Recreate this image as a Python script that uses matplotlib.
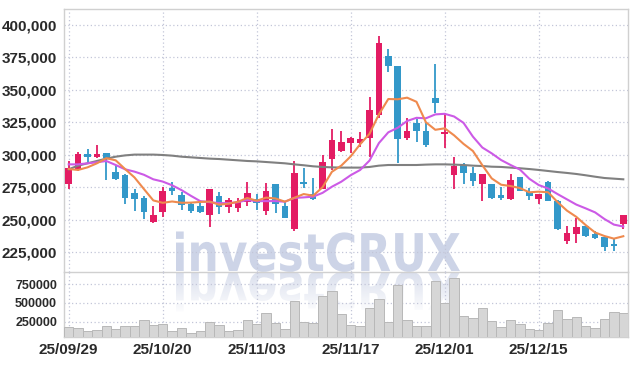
import matplotlib
matplotlib.use('Agg')
import matplotlib.pyplot as plt
import numpy as np
from matplotlib.textpath import TextPath
from matplotlib.font_manager import FontProperties
from matplotlib.patches import PathPatch
from matplotlib.transforms import Affine2D
import matplotlib.colors as mcolors

# ---------------- data ----------------
tick_pos = [0, 10, 20, 30, 40, 50]
tick_labels = ['25/09/29', '25/10/20', '25/11/03', '25/11/17', '25/12/01', '25/12/15']

opens = [277400, 289000, 300800, 298700, 301300, 286900, 284600, 271000, 266900, 248700,
         256400, 274900, 269200, 262300, 260800, 253800, 268500, 260300, 259500, 264100,
         265900, 257200, 277400, 260800, 243100, 279200, 269700, 273900, 296900, 303300,
         309500, 309500, 312800, 331000, 376200, 368500, 313300, 324900, 318700, 344100,
         315900, 284900, 292300, 285900, 277400, 277400, 269200, 265900, 282800, 271800,
         266400, 279500, 264600, 234100, 239000, 245400, 239200, 237200, 231500, 246700]
highs = [295600, 302300, 304600, 307700, 301500, 292100, 285500, 273600, 268500, 260800,
         275600, 279500, 271800, 264100, 263300, 274000, 271300, 266700, 267200, 279000,
         269700, 278200, 277500, 264100, 295600, 289700, 282600, 300000, 319700, 318700,
         313600, 317400, 344900, 391800, 381300, 368600, 328200, 327400, 324400, 369700,
         332400, 298700, 294100, 291000, 285500, 277500, 275100, 285400, 282900, 274400,
         270000, 280000, 265000, 245600, 251300, 245500, 241800, 237300, 235100, 254000]
lows = [273600, 287400, 294100, 297400, 280800, 280800, 262100, 256900, 250500, 247400,
        252100, 269200, 257700, 255100, 255100, 244900, 254400, 255600, 256200, 260800,
        257700, 253900, 255100, 251500, 241800, 274400, 265400, 273500, 288500, 302600,
        301800, 306400, 298200, 328200, 363600, 294100, 311500, 310300, 306400, 332100,
        305100, 273900, 277700, 276200, 264600, 266200, 265400, 265400, 272500, 265400,
        262300, 264600, 242300, 231300, 232100, 237200, 235400, 226400, 226200, 243100]
closes = [289700, 300800, 298700, 300800, 297700, 281500, 267200, 266400, 256400, 253800,
          272300, 272300, 261500, 256900, 256400, 273800, 260300, 265400, 264100, 271000,
          263300, 272300, 262100, 251800, 285900, 277700, 265900, 294400, 311500, 309700,
          313300, 312300, 334600, 386400, 368700, 312300, 318500, 318700, 307700, 339700,
          318000, 291500, 285900, 280300, 285100, 267200, 267200, 280800, 272600, 268700,
          269700, 264900, 243100, 239800, 244600, 238000, 236400, 229500, 229800, 253900]
volumes = [175000, 162000, 122000, 136000, 189000, 149000, 189000, 189000, 269000, 202000,
           215000, 126000, 162000, 96000, 122000, 242000, 202000, 122000, 136000, 269000,
           215000, 362000, 229000, 149000, 521000, 246000, 229000, 592000, 654000, 352000,
           206000, 189000, 428000, 548000, 246000, 738000, 269000, 189000, 193000, 787000,
           503000, 827000, 326000, 299000, 428000, 259000, 180000, 269000, 219000, 153000,
           136000, 229000, 406000, 286000, 308000, 189000, 162000, 282000, 375000, 362000]
# first moving-average values (their earlier closes are outside the chart)
ma5_head = [289200, 288500, 290500, 293600]
ma10_head = [292800, 292800, 293600, 294400, 295400, 292300, 289000, 287200, 284800]
ma60 = [289000, 291800, 293600, 295400, 297200, 298700, 299700, 300300, 300300, 300300,
        300000, 299500, 298700, 298200, 297700, 297200, 296900, 296400, 295900, 295400,
        295100, 294600, 294100, 293600, 292800, 292100, 291300, 290800, 290500, 290300,
        290300, 290300, 290800, 291800, 292300, 292300, 292300, 292300, 292600, 292800,
        292800, 292600, 292300, 291800, 291500, 291000, 290800, 290300, 289800, 289200,
        288500, 287700, 286900, 286200, 285400, 284400, 283300, 282300, 281800, 281300]

price_ticks = [225000, 250000, 275000, 300000, 325000, 350000, 375000, 400000]
vol_ticks = [250000, 500000, 750000]

# ---------------- figure ----------------
W, H = 637, 366
fig = plt.figure(figsize=(W / 100, H / 100), dpi=100)
fig.patch.set_facecolor('white')

def rect(l, t, r, b):
    return [l / W, 1 - b / H, (r - l) / W, (b - t) / H]

overlay = fig.add_axes([0, 0, 1, 1], zorder=-1)
overlay.axis('off')

ax = fig.add_axes(rect(64, 9, 628, 272))
axv = fig.add_axes(rect(64, 272, 628, 337), sharex=ax)
for a in (ax, axv):
    a.set_facecolor('none')

# watermark and its reflection
wm_col = '#cdd4e7'
fp = FontProperties(family='DejaVu Sans', weight='bold')
tp = TextPath((0, 0), 'investCRUX', size=52, prop=fp)
ext = tp.get_extents()
sx = 284.0 / ext.width
cx, base = 318, H - 271
t_main = (Affine2D().translate(-(ext.x0 + ext.x1) / 2, 0).scale(sx, 1)
          .translate(cx, base) + overlay.transData)
overlay.add_patch(PathPatch(tp, facecolor=wm_col, edgecolor='none', transform=t_main))
t_ref = (Affine2D().translate(-(ext.x0 + ext.x1) / 2, 0).scale(sx, -1)
         .translate(cx, base - 1) + overlay.transData)
ref_patch = PathPatch(tp, facecolor='none', edgecolor='none', transform=t_ref)
overlay.add_patch(ref_patch)
rgb = mcolors.to_rgb(wm_col)
n = 100
grad = np.zeros((n, 2, 4))
grad[..., 0], grad[..., 1], grad[..., 2] = rgb
grad[..., 3] = np.linspace(0.75, 0.0, n)[:, None]
im = overlay.imshow(grad, extent=(cx - 200, cx + 200, base - 44, base), origin='upper',
                    aspect='auto', interpolation='bilinear')
im.set_clip_path(ref_patch)
overlay.set_xlim(0, W)
overlay.set_ylim(0, H)

x = np.arange(len(closes))
o = np.array(opens); c = np.array(closes); h = np.array(highs); l = np.array(lows)
red, blue = '#e31c63', '#3398c9'
cols = [red if cc >= oo else blue for oo, cc in zip(o, c)]

ax.vlines(x, l, h, colors=cols, lw=1.3, zorder=3)
ax.bar(x, np.maximum(np.abs(c - o), 600), bottom=np.minimum(o, c), width=0.72,
       color=cols, linewidth=0, zorder=4)

ma5 = list(ma5_head) + [c[i - 4:i + 1].mean() for i in range(4, len(c))]
ma10 = list(ma10_head) + [c[i - 9:i + 1].mean() for i in range(9, len(c))]
ax.plot(x, ma60, color='#808080', lw=1.5, zorder=5)
ax.plot(x, ma10, color='#cc5ae6', lw=1.5, zorder=5)
ax.plot(x, ma5, color='#ef8a4e', lw=1.5, zorder=5)

axv.bar(x, volumes, width=1.0, color='#d6d6d6', edgecolor='#b8b8b8', linewidth=0.7, zorder=3)

ax.set_xlim(-0.5, len(x) - 0.5)
ax.set_ylim(210000, 412300)
axv.set_ylim(46000, 911000)

grid_kw = dict(color='#c3c6d8', linestyle=(0, (1, 2)), linewidth=0.9)
for a in (ax, axv):
    a.set_xticks(tick_pos)
    a.grid(True, **grid_kw)
    a.set_axisbelow(True)
    for s in a.spines.values():
        s.set_color('#d0d0d0')
        s.set_linewidth(1.0)
    a.tick_params(length=0, colors='#2a2a2a')
axv.spines['top'].set_visible(False)

ax.set_yticks(price_ticks)
ax.set_yticklabels([f'{v:,}' for v in price_ticks])
axv.set_yticks(vol_ticks)
axv.set_yticklabels([str(v) for v in vol_ticks])
axv.set_xticklabels(tick_labels)
plt.setp(ax.get_xticklabels(), visible=False)

narrow = ['Liberation Sans Narrow', 'Liberation Sans', 'DejaVu Sans']
for t in ax.get_yticklabels():
    t.set_fontfamily(narrow); t.set_fontsize(11); t.set_fontweight('bold')
for t in axv.get_xticklabels():
    t.set_fontfamily(narrow); t.set_fontsize(11); t.set_fontweight('bold')
for t in axv.get_yticklabels():
    t.set_fontfamily(['Liberation Sans', 'DejaVu Sans']); t.set_fontsize(9); t.set_fontweight('bold')
ax.tick_params(axis='y', pad=5)
axv.tick_params(axis='y', pad=5)
axv.tick_params(axis='x', pad=4)

fig.savefig('out.png', dpi=100)
